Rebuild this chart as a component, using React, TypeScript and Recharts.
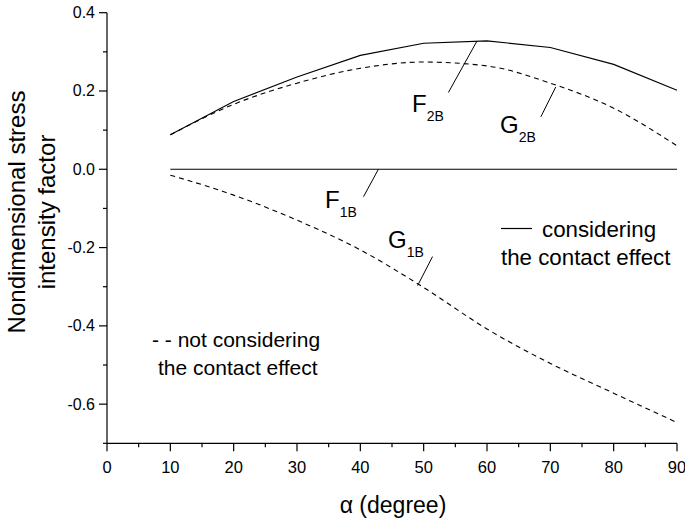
import React from "react";
import { LineChart, Line, XAxis, YAxis, ReferenceLine } from "recharts";

const FONT = '"Liberation Sans", Arial, Helvetica, sans-serif';

// angle alpha in degrees
const alpha = [10, 20, 30, 40, 50, 60, 70, 80, 90];
// considering the contact effect (solid)
const f2b = [0.088, 0.173, 0.236, 0.291, 0.322, 0.328, 0.311, 0.268, 0.202];
const f1b = [0, 0, 0, 0, 0, 0, 0, 0, 0];
// not considering the contact effect (dashed)
const g2b = [0.088, 0.166, 0.22, 0.258, 0.274, 0.264, 0.22, 0.156, 0.06];
const g1b = [-0.015, -0.066, -0.13, -0.206, -0.302, -0.408, -0.496, -0.572, -0.647];

const xTicks = [0, 5, 10, 15, 20, 25, 30, 35, 40, 45, 50, 55, 60, 65, 70, 75, 80, 85, 90];
const yTicks = [-0.7, -0.6, -0.5, -0.4, -0.3, -0.2, -0.1, 0, 0.1, 0.2, 0.3, 0.4];

// leader lines from curves to their labels, in data units
const leaders = [
  { name: "F2B", from: { x: 58.4, y: 0.327 }, to: { x: 53.9, y: 0.196 } },
  { name: "G2B", from: { x: 70.85, y: 0.21 }, to: { x: 68.5, y: 0.134 } },
  { name: "F1B", from: { x: 42.85, y: 0.0 }, to: { x: 40.5, y: -0.07 } },
  { name: "G1B", from: { x: 51.4, y: -0.223 }, to: { x: 49.05, y: -0.297 } },
];

const data = alpha.map((a, i) => ({
  alpha: a,
  f2b: f2b[i],
  f1b: f1b[i],
  g2b: g2b[i],
  g1b: g1b[i],
}));

function XTick(props: any) {
  const { x, y, payload } = props;
  const major = payload.value % 10 === 0;
  return (
    <g>
      <line x1={x} y1={y} x2={x} y2={y + (major ? 8 : 4)} stroke="#000" strokeWidth={1.2} />
      {major && (
        <text x={x} y={y + 29.5} textAnchor="middle" fontSize={16.5} fontFamily={FONT} fill="#000">
          {payload.value}
        </text>
      )}
    </g>
  );
}

function YTick(props: any) {
  const { x, y, payload } = props;
  const major = Math.round(payload.value * 10) % 2 === 0;
  return (
    <g>
      <line x1={x} y1={y} x2={x - (major ? 8 : 4)} y2={y} stroke="#000" strokeWidth={1.2} />
      {major && (
        <text x={x - 12} y={y + 5.5} textAnchor="end" fontSize={16} fontFamily={FONT} fill="#000">
          {payload.value.toFixed(1)}
        </text>
      )}
    </g>
  );
}

function CurveLabel({ x, y, main, sub }: { x: number; y: number; main: string; sub: string }) {
  return (
    <text x={x} y={y} fontSize={24} fontFamily={FONT} fill="#000">
      {main}
      <tspan fontSize={14} dy={9}>{sub}</tspan>
    </text>
  );
}

export default function App() {
  return (
    <div style={{ position: "absolute", left: 0, top: 0, width: 685, height: 525, background: "#fff" }}>
      <LineChart
        width={685}
        height={525}
        data={data}
        margin={{ top: 12.7, right: 8, bottom: 41.7, left: 7 }}
      >
        <XAxis
          dataKey="alpha"
          type="number"
          domain={[0, 90]}
          ticks={xTicks}
          interval={0}
          height={40}
          tickSize={0}
          tickMargin={0}
          tick={<XTick />}
          axisLine={{ stroke: "#000", strokeWidth: 1.2 }}
        />
        <YAxis
          type="number"
          domain={[-0.7, 0.4]}
          ticks={yTicks}
          interval={0}
          width={100}
          tickSize={0}
          tickMargin={0}
          tick={<YTick />}
          axisLine={{ stroke: "#000", strokeWidth: 1.2 }}
        />
        <Line dataKey="f2b" type="linear" stroke="#000" strokeWidth={1.1} dot={false} isAnimationActive={false} />
        <Line dataKey="f1b" type="linear" stroke="#000" strokeWidth={1.1} dot={false} isAnimationActive={false} />
        <Line dataKey="g2b" type="monotone" stroke="#000" strokeWidth={1.1} strokeDasharray="5 4" dot={false} isAnimationActive={false} />
        <Line dataKey="g1b" type="monotone" stroke="#000" strokeWidth={1.1} strokeDasharray="5 4" dot={false} isAnimationActive={false} />
        {leaders.map((l) => (
          <ReferenceLine key={l.name} segment={[l.from, l.to]} stroke="#000" strokeWidth={1} />
        ))}
      </LineChart>
      <svg
        width={685}
        height={525}
        style={{ position: "absolute", left: 0, top: 0, pointerEvents: "none" }}
      >
        <CurveLabel x={412} y={112} main="F" sub="2B" />
        <CurveLabel x={500} y={133} main="G" sub="2B" />
        <CurveLabel x={325} y={208} main="F" sub="1B" />
        <CurveLabel x={388} y={248} main="G" sub="1B" />

        <line x1={501} y1={228.5} x2={532} y2={228.5} stroke="#000" strokeWidth={1.2} />
        <text x={542} y={236.5} fontSize={22.3} fontFamily={FONT} fill="#000">considering</text>
        <text x={501} y={265} fontSize={22.3} fontFamily={FONT} fill="#000">the contact effect</text>

        <text x={152} y={347} fontSize={21} fontFamily={FONT} fill="#000">- - not considering</text>
        <text x={158} y={375} fontSize={21} fontFamily={FONT} fill="#000">the contact effect</text>

        <text x={393} y={513} textAnchor="middle" fontSize={23} fontFamily={FONT} fill="#000">
          α (degree)
        </text>
        <text x={25} y={212} transform="rotate(-90 25 212)" textAnchor="middle" fontSize={24} fontFamily={FONT} fill="#000">
          Nondimensional stress
        </text>
        <text x={55} y={212} transform="rotate(-90 55 212)" textAnchor="middle" fontSize={24} fontFamily={FONT} fill="#000">
          intensity factor
        </text>
      </svg>
    </div>
  );
}
